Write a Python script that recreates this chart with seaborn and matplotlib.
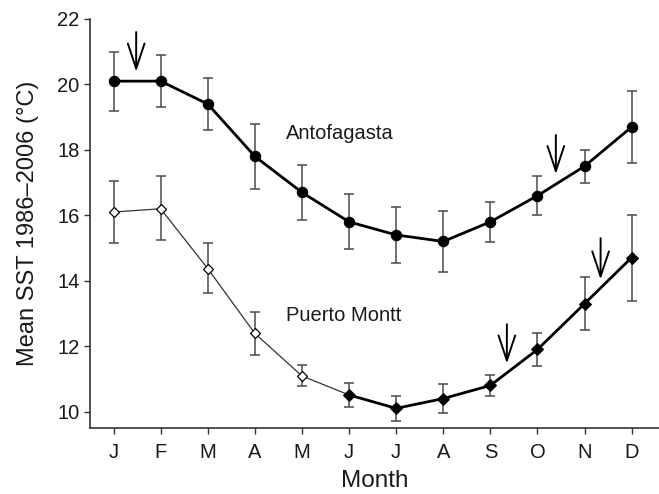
import matplotlib
matplotlib.use("Agg")
import matplotlib.pyplot as plt
import seaborn as sns
import pandas as pd
import numpy as np

sns.set_theme(style="ticks")
plt.rcParams['font.family'] = ['Liberation Sans', 'DejaVu Sans']

month_labels = ["J", "F", "M", "A", "M", "J", "J", "A", "S", "O", "N", "D"]
month_idx = list(range(12))

anto_mean = [20.1, 20.1, 19.4, 17.8, 16.7, 15.8, 15.4, 15.2, 15.8, 16.6, 17.5, 18.7]
anto_upper = [21.0, 20.9, 20.2, 18.8, 17.55, 16.65, 16.25, 16.13, 16.4, 17.2, 18.0, 19.8]
anto_lower = [19.2, 19.3, 18.6, 16.8, 15.85, 14.98, 14.53, 14.27, 15.19, 16.0, 17.0, 17.6]

pm_mean = [16.1, 16.2, 14.37, 12.39, 11.09, 10.51, 10.10, 10.40, 10.80, 11.90, 13.30, 14.71]
pm_upper = [17.05, 17.2, 15.14, 13.06, 11.44, 10.86, 10.48, 10.84, 11.13, 12.41, 14.10, 16.0]
pm_lower = [15.15, 15.24, 13.64, 11.72, 10.77, 10.14, 9.72, 9.97, 10.48, 11.39, 12.49, 13.38]

arrow_x = [0.48, 9.39, 8.35, 10.34]
arrow_top = [21.6, 18.45, 12.67, 15.3]
arrow_tip = [20.39, 17.26, 11.47, 14.04]

labels_text = ["Antofagasta", "Puerto Montt"]
labels_x = [3.66, 3.66]
labels_y = [18.5, 12.94]

anto = pd.DataFrame({"m": month_idx, "t": anto_mean})
pm = pd.DataFrame({"m": month_idx, "t": pm_mean})
pm_early = pm.iloc[:6]
pm_late = pm.iloc[5:]

fig = plt.figure(figsize=(6.59, 4.94), dpi=100)
ax = fig.add_axes([0.1366, 0.1336, 0.8634, 0.828])

err_col = "#4a4a4a"
# error bars
for mean, up, lo in [(anto_mean, anto_upper, anto_lower), (pm_mean, pm_upper, pm_lower)]:
    mean_a = np.array(mean)
    yerr = [mean_a - np.array(lo), np.array(up) - mean_a]
    ax.errorbar(month_idx, mean, yerr=yerr, fmt="none", ecolor=err_col,
                elinewidth=1.1, capsize=3.8, capthick=1.1, zorder=2)

# Antofagasta
sns.lineplot(data=anto, x="m", y="t", ax=ax, color="black", linewidth=2.0,
             marker="o", markersize=7.5, markeredgecolor="black",
             markerfacecolor="black", zorder=4)

# Puerto Montt: thin early part with open diamonds
sns.lineplot(data=pm_early, x="m", y="t", ax=ax, color="#333333", linewidth=0.9,
             zorder=3)
ax.plot(pm_early["m"][:5], pm_early["t"][:5], linestyle="none", marker="D",
        markersize=5.5, markerfacecolor="white", markeredgecolor="black",
        markeredgewidth=0.9, zorder=5)
# thick late part with filled diamonds
sns.lineplot(data=pm_late, x="m", y="t", ax=ax, color="black", linewidth=2.0,
             marker="D", markersize=6.5, markeredgecolor="black",
             markerfacecolor="black", zorder=4)

# arrows
for xa, yt, yb in zip(arrow_x, arrow_top, arrow_tip):
    ax.annotate("", xy=(xa, yb), xytext=(xa, yt),
                arrowprops=dict(arrowstyle="->,head_length=1.8,head_width=0.6",
                                lw=1.4, color="black", mutation_scale=10,
                                shrinkA=0, shrinkB=0), zorder=6)

for txt, tx, ty in zip(labels_text, labels_x, labels_y):
    ax.text(tx, ty, txt, fontsize=14.5, color="#1a1a1a", ha="left", va="center")

ax.set_xlim(-0.5, 11.58)
ax.set_ylim(9.5, 22)
ax.set_xticks(month_idx)
ax.set_xticklabels(month_labels)
ax.set_yticks([10, 12, 14, 16, 18, 20, 22])
ax.tick_params(axis="both", labelsize=14.5, colors="#333333", labelcolor="#1a1a1a",
               length=4.5, width=1.0, direction="out")
ax.tick_params(axis="y", pad=3)
ax.tick_params(axis="x", pad=6)
ax.set_xlabel("Month", fontsize=17.5, color="#1a1a1a", labelpad=6)
ax.set_ylabel("Mean SST 1986\u20132006 (\u00b0C)", fontsize=17, color="#1a1a1a", labelpad=13)
for s in ["top", "right"]:
    ax.spines[s].set_visible(False)
for s in ["left", "bottom"]:
    ax.spines[s].set_color("#333333")
    ax.spines[s].set_linewidth(1.2)

fig.savefig("out.png", dpi=100)
